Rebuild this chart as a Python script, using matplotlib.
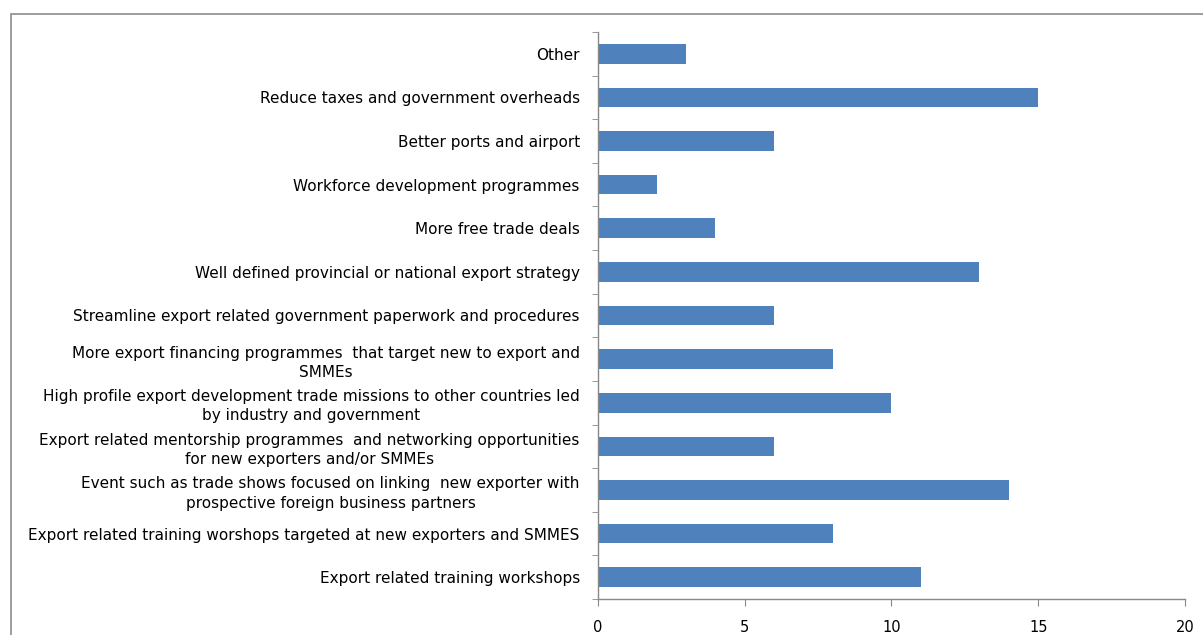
import matplotlib
matplotlib.use("Agg")
import matplotlib.pyplot as plt
from matplotlib.patches import Rectangle
import numpy as np

categories = [
    "Other",
    "Reduce taxes and government overheads",
    "Better ports and airport",
    "Workforce development programmes",
    "More free trade deals",
    "Well defined provincial or national export strategy",
    "Streamline export related government paperwork and procedures",
    "More export financing programmes  that target new to export and\nSMMEs",
    "High profile export development trade missions to other countries led\nby industry and government",
    "Export related mentorship programmes  and networking opportunities\nfor new exporters and/or SMMEs",
    "Event such as trade shows focused on linking  new exporter with\nprospective foreign business partners",
    "Export related training worshops targeted at new exporters and SMMES",
    "Export related training workshops",
]
counts = [3, 15, 6, 2, 4, 13, 6, 8, 10, 6, 14, 8, 11]
x_ticks = [0, 5, 10, 15, 20]

plt.rcParams["font.family"] = ["DejaVu Sans"]

fig = plt.figure(figsize=(12.03, 6.35), dpi=100)
ax = fig.add_axes([0.497, 0.0567, 0.488, 0.893])

# outer chart frame
fig.patches.append(Rectangle((11 / 1203, -0.2), 1.2, 1.2 - 14 / 635,
                             transform=fig.transFigure, fill=False,
                             edgecolor="#8c8c8c", linewidth=1.2, zorder=0))

y = np.arange(len(categories))
ax.barh(y, counts, height=0.45, color="#4F81BD", zorder=2)

ax.set_xlim(0, 20)
ax.set_ylim(len(categories) - 0.5, -0.5)
ax.set_xticks(x_ticks)
ax.set_xticklabels([str(v) for v in x_ticks], fontsize=10.5)
ax.set_yticks(y)
ax.set_yticklabels(categories, fontsize=11, multialignment="center",
                   linespacing=1.35)
ax.set_yticks(np.arange(-0.5, len(categories), 1), minor=True)
ax.tick_params(axis="y", which="major", length=0, pad=13)
ax.tick_params(axis="y", which="minor", length=4, color="#888888", direction="out")
ax.tick_params(axis="x", which="major", length=5, color="#888888", direction="out", pad=10)

for side in ["top", "right"]:
    ax.spines[side].set_visible(False)
for side in ["left", "bottom"]:
    ax.spines[side].set_color("#888888")
    ax.spines[side].set_linewidth(1.0)

fig.savefig("out.png", dpi=100)
